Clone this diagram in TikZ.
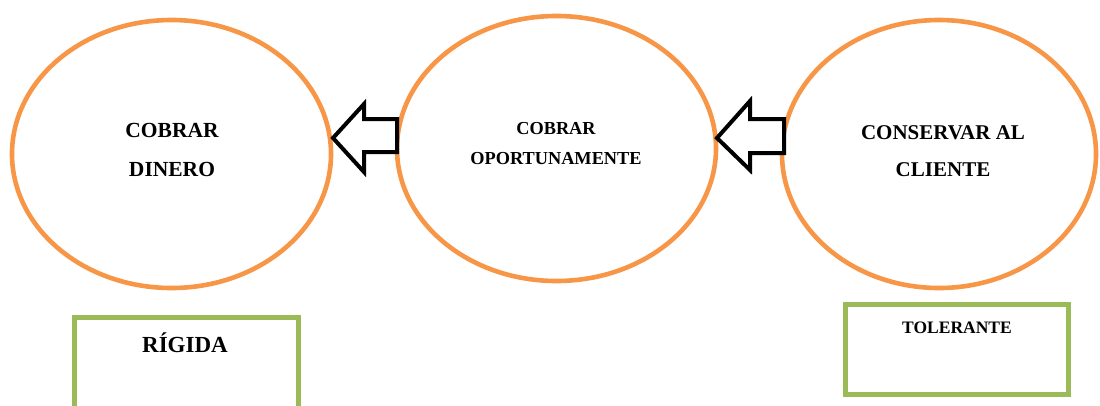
\documentclass[tikz,border=0pt]{standalone}
\usepackage{fontspec}
\setmainfont{Liberation Serif}
\usetikzlibrary{shapes.geometric}
\definecolor{ringorange}{HTML}{F79646}
\definecolor{boxgreen}{HTML}{9BBB59}
\begin{document}
\begin{tikzpicture}[x=1pt,y=-1pt,
  goal/.style={draw=ringorange,line width=4.6pt,ellipse,inner sep=0pt},
  label/.style={font=\bfseries,align=center,inner sep=0pt},
  stance/.style={draw=boxgreen,line width=5pt},
  blockarrow/.style={draw=black,line width=4pt,fill=white,line join=miter}]
\useasboundingbox (0,0) rectangle (1100,405);

% three goal ellipses
\node[goal,minimum width=319pt,minimum height=268pt] (dinero) at (171.5,154) {};
\node[goal,minimum width=319pt,minimum height=265pt] (oportuno) at (556.5,148.5) {};
\node[goal,minimum width=314pt,minimum height=268pt] (cliente) at (939,154) {};

% texts inside the ellipses
\node[label,font=\bfseries\fontsize{21.5}{39}\selectfont] (tdinero) at (172,150) {COBRAR\\DINERO};
\node[label,font=\bfseries\fontsize{18.3}{30}\selectfont] (toportuno) at (556,143.5) {COBRAR\\OPORTUNAMENTE};
\node[label,font=\bfseries\fontsize{21}{37}\selectfont] (tcliente) at (943,151) {CONSERVAR AL\\CLIENTE};

% block arrows pointing left, between the ellipses
\draw[blockarrow] (333,138) -- (364,104) -- (364,119) -- (397,119) -- (397,152) -- (364,152) -- (364,172) -- cycle;
\draw[blockarrow] (717,138) -- (750,101) -- (750,119) -- (784,119) -- (784,153) -- (750,153) -- (750,170) -- cycle;

% stance boxes
\draw[stance] (74,317) rectangle (298,420);
\node[label,font=\bfseries\fontsize{23}{27}\selectfont,anchor=base] (trigida) at (185,352) {RÍGIDA};
\draw[stance] (845,304) rectangle (1068,394);
\node[label,font=\bfseries\fontsize{17.5}{21}\selectfont,anchor=base] (ttolerante) at (957,333) {TOLERANTE};
\end{tikzpicture}
\end{document}
